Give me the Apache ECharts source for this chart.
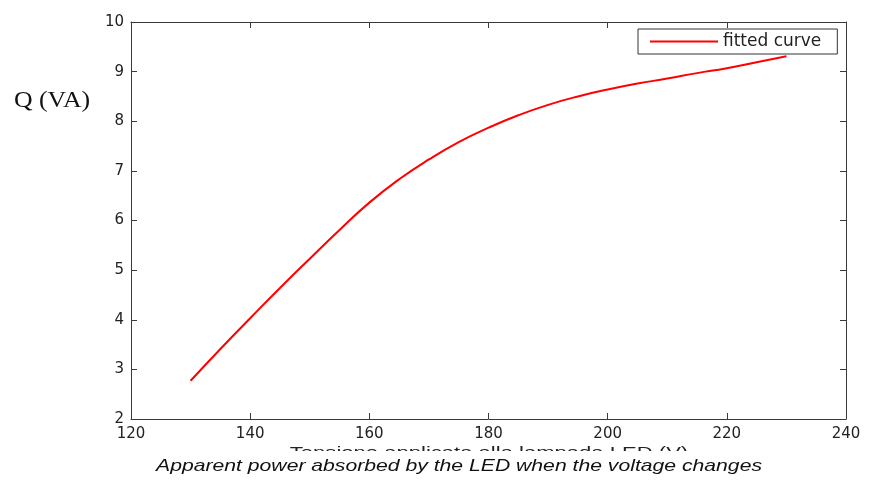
<!DOCTYPE html>
<html>
<head>
<meta charset="utf-8">
<script src="https://cdn.jsdelivr.net/npm/echarts@6/dist/echarts.min.js"></script>
<style>
  html, body { margin: 0; padding: 0; background: #fff; }
  #chart { width: 869px; height: 484px; }
</style>
</head>
<body>
<div id="chart"></div>
<script>
  // tensione (V) e potenza apparente Q (VA)
  var voltage = [130, 135, 140, 145, 150, 155, 160, 165, 170, 175, 180, 185, 190, 195, 200, 205, 210, 215, 220, 225, 230];
  var power = [2.77, 3.41, 4.03, 4.64, 5.23, 5.81, 6.36, 6.83, 7.23, 7.58, 7.87, 8.12, 8.33, 8.50, 8.64, 8.76, 8.86, 8.97, 9.07, 9.19, 9.31];
  var xTicks = [120, 240, 20];
  var yTicks = [2, 10, 1];

  var seriesData = voltage.map(function (v, i) { return [v, power[i]]; });
  var axisColor = '#3a3a3a';
  var labelFont = { color: '#222', fontSize: 15, fontFamily: 'DejaVu Sans' };

  var chart = echarts.init(document.getElementById('chart'));
  var option = {
    backgroundColor: '#fff',
    animation: false,
    grid: { left: 131, right: 23, top: 22, bottom: 65 },
    legend: {
      left: 638,
      top: 29,
      orient: 'horizontal',
      backgroundColor: '#fff',
      borderColor: '#333',
      borderWidth: 1,
      borderRadius: 0,
      padding: [4, 16, 4, 12],
      itemWidth: 68,
      itemHeight: 2,
      itemGap: 5,
      textStyle: { color: '#222', fontSize: 17, fontFamily: 'DejaVu Sans' },
      data: [{ name: 'fitted curve', icon: 'rect' }]
    },
    xAxis: [
      {
        type: 'value',
        min: xTicks[0], max: xTicks[1], interval: xTicks[2],
        position: 'bottom',
        axisLine: { show: true, lineStyle: { color: axisColor, width: 1 } },
        axisTick: { show: true, inside: true, length: 6, lineStyle: { color: axisColor } },
        axisLabel: Object.assign({ margin: 8 }, labelFont),
        splitLine: { show: false }
      },
      {
        type: 'value',
        min: xTicks[0], max: xTicks[1], interval: xTicks[2],
        position: 'top',
        axisLine: { show: true, lineStyle: { color: axisColor, width: 1 } },
        axisTick: { show: true, inside: true, length: 6, lineStyle: { color: axisColor } },
        axisLabel: { show: false },
        splitLine: { show: false }
      }
    ],
    yAxis: [
      {
        type: 'value',
        min: yTicks[0], max: yTicks[1], interval: yTicks[2],
        position: 'left',
        axisLine: { show: true, lineStyle: { color: axisColor, width: 1 } },
        axisTick: { show: true, inside: true, length: 6, lineStyle: { color: axisColor } },
        axisLabel: Object.assign({ margin: 7 }, labelFont),
        splitLine: { show: false }
      },
      {
        type: 'value',
        min: yTicks[0], max: yTicks[1], interval: yTicks[2],
        position: 'right',
        axisLine: { show: true, lineStyle: { color: axisColor, width: 1 } },
        axisTick: { show: true, inside: true, length: 6, lineStyle: { color: axisColor } },
        axisLabel: { show: false },
        splitLine: { show: false }
      }
    ],
    series: [
      {
        name: 'fitted curve',
        type: 'line',
        smooth: 0.5,
        showSymbol: false,
        color: '#ff0000',
        lineStyle: { color: '#ff0000', width: 2 },
        data: seriesData,
        z: 3
      }
    ],
    graphic: [
      {
        type: 'text',
        left: 14,
        top: 89,
        scaleX: 1.12,
        style: { text: 'Q (VA)', fill: '#111', font: '23px "Liberation Serif", "Times New Roman", serif' }
      },
      {
        type: 'text',
        x: 489,
        y: 445,
        scaleX: 1.47,
        style: {
          text: 'Tensione applicata alla lampada LED (V)',
          fill: '#222',
          font: '15px "Liberation Sans", Arial, sans-serif',
          align: 'center',
          verticalAlign: 'top'
        },
        z: 10
      },
      {
        // copre la metà inferiore dell'etichetta tagliata
        type: 'rect',
        left: 200,
        top: 451,
        z: 100,
        shape: { width: 600, height: 14 },
        style: { fill: '#ffffff' }
      },
      {
        type: 'text',
        x: 459,
        y: 458,
        scaleX: 1.245,
        z: 101,
        style: {
          text: 'Apparent power absorbed by the LED when the voltage changes',
          fill: '#111',
          font: 'italic 17px "Liberation Sans", Arial, sans-serif',
          align: 'center',
          verticalAlign: 'top'
        }
      }
    ]
  };
  chart.setOption(option);
</script>
</body>
</html>
